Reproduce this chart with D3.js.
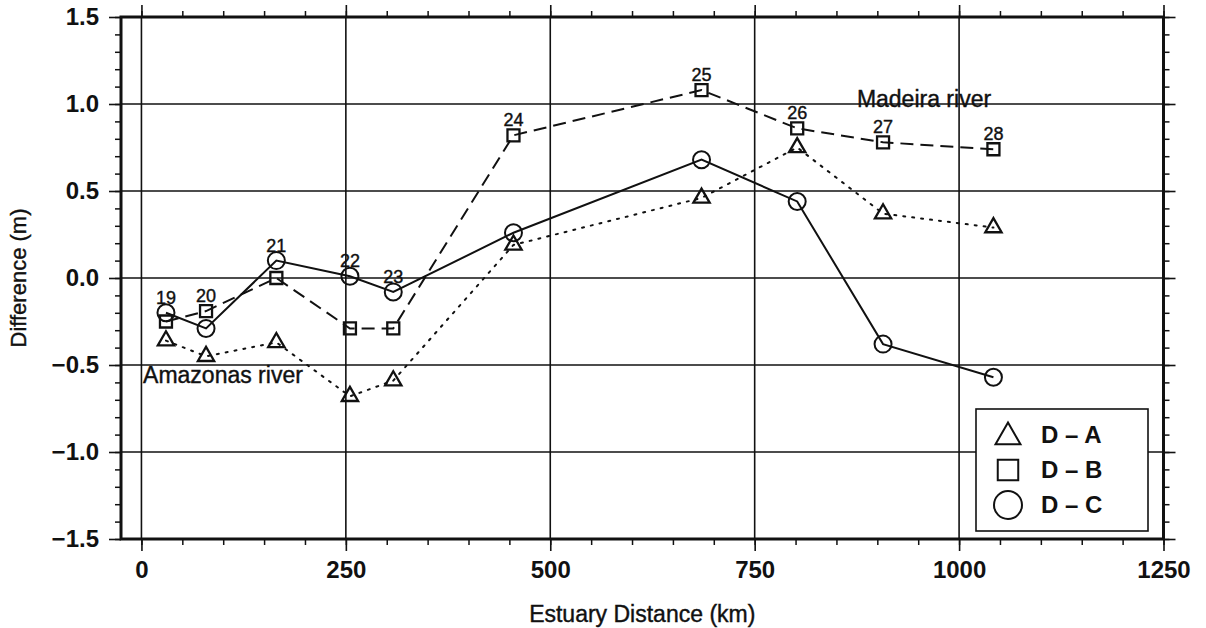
<!DOCTYPE html>
<html>
<head>
<meta charset="utf-8">
<script src="https://cdn.jsdelivr.net/npm/d3@7"></script>
<style>
  body { margin: 0; background: #fff; }
  svg { font-family: "Liberation Sans", Arial, Helvetica, sans-serif; }
  .thin-text { stroke: #111; stroke-width: 0.4px; fill: #111; }
</style>
</head>
<body>
<svg id="chart" width="1206" height="628"></svg>
<script>
// station numbers and distance along the estuary (km)
const stations = [19, 20, 21, 22, 23, 24, 25, 26, 27, 28];
const distanceKm = [30, 79, 165, 255, 308, 455, 685, 802, 907, 1042];

// differences (m)
const diffDA = [-0.36, -0.45, -0.37, -0.68, -0.59, 0.19, 0.46, 0.75, 0.37, 0.29];
const diffDB = [-0.25, -0.19, 0.00, -0.29, -0.29, 0.82, 1.08, 0.86, 0.78, 0.74];
const diffDC = [-0.20, -0.29, 0.10, 0.01, -0.08, 0.26, 0.68, 0.44, -0.38, -0.57];

const seriesNames = ["D \u2013 A", "D \u2013 B", "D \u2013 C"];

const xTicks = [0, 250, 500, 750, 1000, 1250];
const yTicks = [-1.5, -1.0, -0.5, 0.0, 0.5, 1.0, 1.5];

const riverNames = ["Amazonas river", "Madeira river"];
const riverKm = [2, 875];
const riverDiff = [-0.56, 1.03];

const svg = d3.select("#chart");

let x = d3.scaleLinear().domain([-25, 1250]).range([121, 1163.5]);
let y = d3.scaleLinear().domain([-1.5, 1.5]).range([539, 17]);

let plotLeft = x(-25), plotRight = x(1250), plotTop = y(1.5), plotBottom = y(-1.5);

// grid lines at the major ticks
svg.append("g").selectAll("line")
    .data(xTicks)
    .enter().append("line")
    .attr("x1", d => x(d)).attr("x2", d => x(d))
    .attr("y1", plotTop).attr("y2", plotBottom)
    .attr("stroke", "#111").attr("stroke-width", 1.6);

svg.append("g").selectAll("line")
    .data(yTicks)
    .enter().append("line")
    .attr("x1", plotLeft).attr("x2", plotRight)
    .attr("y1", d => y(d)).attr("y2", d => y(d))
    .attr("stroke", "#111").attr("stroke-width", 1.6);

// ticks on all four sides, labels only on bottom and left
const xMinor = d3.range(0, 1251, 50);
const yMinor = d3.range(-15, 16).map(d => d / 10);

let sides = [
    {axis: () => d3.axisBottom(x), t: `translate(0,${plotBottom})`, ticks: xTicks, minor: xMinor, fmt: d3.format("d")},
    {axis: () => d3.axisTop(x), t: `translate(0,${plotTop})`, ticks: xTicks, minor: xMinor, fmt: ""},
    {axis: () => d3.axisLeft(y), t: `translate(${plotLeft},0)`, ticks: yTicks, minor: yMinor, fmt: d3.format(".1f")},
    {axis: () => d3.axisRight(y), t: `translate(${plotRight},0)`, ticks: yTicks, minor: yMinor, fmt: ""}
];

sides.forEach(function(s) {
    // minor ticks
    let gm = svg.append("g").attr("transform", s.t)
        .call(s.axis().tickValues(s.minor).tickSize(6).tickFormat(""));
    gm.select(".domain").remove();
    gm.selectAll("line").attr("stroke", "#111").attr("stroke-width", 1.5);

    // major ticks
    let g = svg.append("g").attr("transform", s.t)
        .call(s.axis().tickValues(s.ticks).tickSize(12).tickPadding(10).tickFormat(s.fmt));
    g.select(".domain").remove();
    g.selectAll("line").attr("stroke", "#111").attr("stroke-width", 1.6);
    g.selectAll("text")
        .attr("font-size", 24).attr("font-weight", "bold").attr("fill", "#111")
        .attr("font-family", "Liberation Sans, Arial, sans-serif");
});

// thick frame
svg.append("rect")
    .attr("x", plotLeft).attr("y", plotTop)
    .attr("width", plotRight - plotLeft).attr("height", plotBottom - plotTop)
    .attr("fill", "none").attr("stroke", "#111").attr("stroke-width", 3);

// axis titles
svg.append("text")
    .attr("class", "thin-text")
    .attr("x", (plotLeft + plotRight) / 2).attr("y", 622)
    .attr("text-anchor", "middle")
    .attr("font-size", 23)
    .text("Estuary Distance (km)");

svg.append("text")
    .attr("class", "thin-text")
    .attr("transform", `translate(26,${(plotTop + plotBottom) / 2}) rotate(-90)`)
    .attr("text-anchor", "middle")
    .attr("font-size", 22)
    .text("Difference (m)");

// series lines
let lineGen = d3.line()
    .x((d, i) => x(distanceKm[i]))
    .y(d => y(d));

let series = [
    {values: diffDA, dash: "2,7", cap: "round", symbol: "triangle"},
    {values: diffDB, dash: "13,7", cap: "butt", symbol: "square"},
    {values: diffDC, dash: null, cap: "butt", symbol: "circle"}
];

series.forEach(function(s) {
    svg.append("path")
        .datum(s.values)
        .attr("d", lineGen)
        .attr("fill", "none")
        .attr("stroke", "#111")
        .attr("stroke-width", 2)
        .attr("stroke-linecap", s.cap)
        .attr("stroke-dasharray", s.dash);
});

// markers
function drawMarker(g, type, cx, cy, big) {
    if (type === "circle") {
        g.append("circle")
            .attr("cx", cx).attr("cy", cy).attr("r", big ? 14 : 8.5)
            .attr("fill", "none").attr("stroke", "#111").attr("stroke-width", 2);
    } else {
        let sym = type === "triangle" ? d3.symbolTriangle : d3.symbolSquare;
        let size = type === "triangle" ? (big ? 270 : 115) : (big ? 420 : 144);
        g.append("path")
            .attr("d", d3.symbol().type(sym).size(size)())
            .attr("transform", `translate(${cx},${cy})`)
            .attr("fill", "none").attr("stroke", "#111").attr("stroke-width", big ? 2 : 2.3);
    }
}

let markers = svg.append("g");
series.forEach(function(s) {
    s.values.forEach(function(v, i) {
        drawMarker(markers, s.symbol, x(distanceKm[i]), y(v), false);
    });
});

// station numbers over the highest marker
svg.append("g").selectAll("text")
    .data(stations)
    .enter().append("text")
    .attr("class", "thin-text")
    .attr("x", (d, i) => x(distanceKm[i]))
    .attr("y", (d, i) => y(Math.max(diffDA[i], diffDB[i], diffDC[i])) - 9)
    .attr("text-anchor", "middle")
    .attr("font-size", 18)
    .text(d => d);

// river annotations
svg.append("g").selectAll("text")
    .data(riverNames)
    .enter().append("text")
    .attr("class", "thin-text")
    .attr("x", (d, i) => x(riverKm[i]))
    .attr("y", (d, i) => y(riverDiff[i]))
    .attr("dy", "0.35em")
    .attr("font-size", 23)
    .text(d => d);

// legend
let legend = svg.append("g");
legend.append("rect")
    .attr("x", 976).attr("y", 409)
    .attr("width", 172).attr("height", 122)
    .attr("fill", "#fff").attr("stroke", "#111").attr("stroke-width", 1.6);

series.forEach(function(s, i) {
    let cy = 435 + i * 35;
    drawMarker(legend, s.symbol, 1008, cy + (s.symbol === "triangle" ? 2 : 0), true);
    legend.append("text")
        .attr("x", 1041).attr("y", cy)
        .attr("dy", "0.35em")
        .attr("font-size", 24).attr("font-weight", "bold").attr("fill", "#111")
        .text(seriesNames[i]);
});
</script>
</body>
</html>
